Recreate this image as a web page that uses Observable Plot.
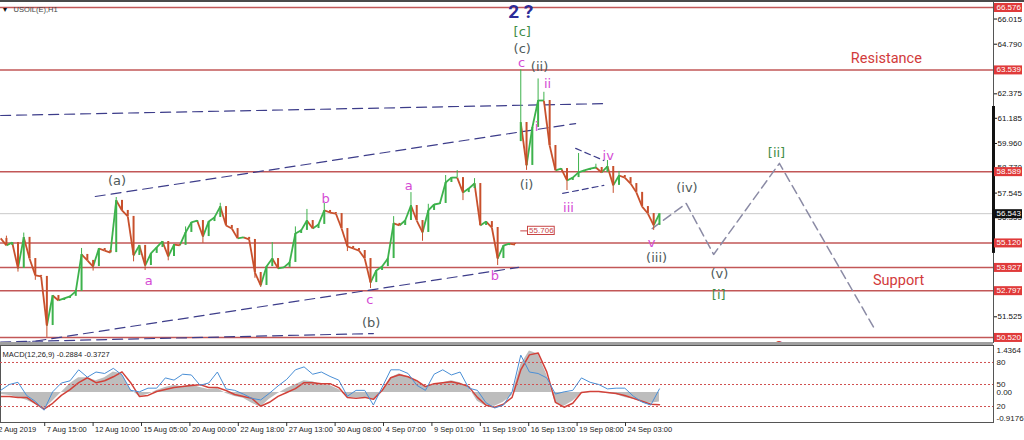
<!DOCTYPE html>
<html>
<head>
<meta charset="utf-8">
<script src="https://cdn.jsdelivr.net/npm/d3@7"></script>
<script src="https://cdn.jsdelivr.net/npm/@observablehq/plot@0.6"></script>
<style>
  html, body { margin: 0; padding: 0; background: #fff; }
  #chart { position: relative; width: 1024px; height: 440px; overflow: hidden; background: #fff; }
  #chart svg { position: absolute; left: 0; }
  #topline { position: absolute; left: 0; top: 0; width: 1024px; height: 2px; background: #4a4a4a; z-index: 5; }
  #sep { position: absolute; left: 0; top: 342px; width: 993px; height: 3px; background: #a0a0a0; z-index: 5; }
</style>
</head>
<body>
<div id="chart"><div id="topline"></div><div id="sep"></div></div>
<script>
// ---------- price data: USOIL H1, close every 8 hourly bars ----------
const closeStart = -61;   // bar index of the first close
const closeStep = 8;      // hourly bars between closes
const closes = [
  55.34, 55.00, 55.14, 53.88, 55.39, 54.36, 53.54, 53.49, 51.10, 52.56,
  52.32, 52.42, 52.52, 52.76, 54.56, 54.27, 53.97, 54.85, 54.75, 54.65,
  57.19, 56.70, 56.41, 54.51, 55.00, 54.02, 54.61, 54.90, 55.19, 54.46,
  55.04, 55.00, 55.63, 56.12, 56.21, 55.43, 56.16, 56.36, 56.89, 55.97,
  55.82, 55.34, 55.39, 55.29, 53.68, 53.05, 53.97, 54.36, 53.88, 53.93,
  54.17, 55.58, 55.73, 56.21, 55.82, 56.02, 56.70, 56.60, 56.55, 55.82,
  54.95, 54.85, 54.75, 54.36, 53.19, 53.78, 53.97, 54.36, 56.07, 55.97,
  56.21, 56.94, 56.21, 55.63, 56.70, 56.99, 57.04, 58.06, 58.30, 58.30,
  57.57, 57.77, 58.01, 55.97, 56.16, 55.87, 54.36, 54.99, 55.09, 55.04,
  60.98, 58.89, 60.74, 62.05, 62.05, 59.86, 58.65, 58.74, 58.16, 58.30,
  58.55, 58.65, 58.74, 58.79, 58.55, 58.84, 57.92, 58.40, 58.30, 58.01,
  57.58, 56.89, 56.55, 55.97, 56.543
];
// weekend gap: the Monday bar opens far above the Friday close
const gapIndex = 90;
const gapOpen = 60.05;
// extreme wicks
const highIdx  = [1, 4, 14, 20, 32, 38, 47, 51, 53, 56, 68, 71, 74, 77, 79, 82, 90, 93, 94, 100, 103, 105, 107];
const highVals = [55.45, 55.60, 54.85, 57.33, 55.90, 57.05, 55.14, 55.90, 56.75, 57.05, 56.40, 57.57, 57.00, 58.40, 58.64, 58.25, 63.54, 63.10, 62.45, 59.47, 58.95, 59.13, 58.60];
const lowIdx   = [3, 6, 8, 16, 23, 25, 29, 35, 44, 45, 60, 64, 73, 80, 86, 91, 98, 106, 113];
const lowVals  = [53.70, 53.30, 50.52, 53.75, 54.20, 53.78, 54.25, 55.10, 53.40, 52.95, 54.70, 52.90, 55.20, 57.18, 54.02, 58.65, 57.67, 57.53, 55.73];

// horizontal support / resistance levels and the last bid
const levels = [66.576, 63.539, 58.589, 55.120, 53.927, 52.797, 50.520];
const lastPrice = 56.543;
const priceTicks = [66.015, 64.790, 62.375, 61.185, 59.960, 58.770, 57.545, 56.355, 51.525];
const scaleMarker = [54.61, 61.76];
const priceTag = [669, 55.706];

// dashed channel lines: [bar1, price1, bar2, price2]
const trendLines = [
  [-61, 61.32, 779, 61.90],
  [70, 57.38, 735, 60.93],
  [-34, 50.23, 656, 53.93],
  [-61, 50.30, 455, 50.71]
];
const wedgeLines = [
  [717, 57.53, 774, 57.92],
  [735, 59.72, 774, 59.13]
];
// projected path
const projBars   = [841, 888, 926, 1017, 1150];
const projPrices = [55.82, 57.04, 54.56, 58.99, 50.86];

// wave labels: [text, bar, price]
const degreeLabel = [["2 ?", 659, 66.36]];
const greenLabels = [["[c]", 661, 65.38], ["[i]", 933, 52.61], ["[ii]", 1013, 59.52]];
const greyLabels = [
  ["(c)", 661, 64.55], ["(ii)", 685, 63.71], ["(i)", 667, 57.96], ["(iii)", 847, 54.41],
  ["(iv)", 889, 57.82], ["(v)", 934, 53.63], ["(a)", 100, 58.16], ["(b)", 452, 51.25]
];
const pinkLabels = [
  ["c", 660, 63.90], ["ii", 696, 62.88], ["i", 681, 60.79], ["iii", 725, 56.84],
  ["iv", 780, 59.38], ["v", 840, 55.14], ["a", 144, 53.29], ["b", 389, 57.28],
  ["a", 504, 57.92], ["c", 450, 52.37], ["b", 623, 53.54]
];
const zoneLabels = [["Resistance", 1165, 64.09], ["Support", 1182, 53.29], ["Support", 1046, 50.02]];

// ---------- indicator panel, one value every 12 hourly bars ----------
const oscStart = -61;
const oscStep = 12;
const macdMain = [
  -0.06, -0.09, -0.15, -0.24, -0.36, -0.51, -0.27, 0.00, 0.27, 0.45,
  0.45, 0.36, 0.45, 0.63, 0.57, 0.09, -0.12, -0.06, 0.06, 0.15,
  0.21, 0.18, 0.24, 0.15, 0.09, 0.12, -0.03, -0.12, -0.18, -0.33,
  -0.45, -0.21, -0.03, 0.12, 0.24, 0.36, 0.33, 0.24, 0.21, 0.09,
  -0.15, -0.18, -0.18, -0.21, 0.03, 0.45, 0.57, 0.48, 0.33, 0.18,
  0.24, 0.30, 0.36, 0.30, 0.15, -0.27, -0.42, -0.42, -0.30, -0.09,
  0.85, 1.27, 1.18, 0.54, -0.33, -0.42, -0.27, -0.03, 0.00, 0.00,
  -0.03, -0.06, -0.15, -0.21, -0.30, -0.33, -0.2884
];
const macdSignal = [
  -0.12, -0.12, -0.15, -0.15, -0.33, -0.51, -0.33, -0.09, 0.09, 0.30,
  0.45, 0.30, 0.36, 0.48, 0.63, 0.30, -0.12, -0.09, 0.03, 0.09,
  0.15, 0.18, 0.21, 0.24, 0.15, 0.15, 0.06, -0.06, -0.12, -0.18,
  -0.42, -0.30, -0.12, 0.00, 0.12, 0.30, 0.30, 0.27, 0.27, 0.15,
  -0.15, -0.18, -0.15, -0.21, 0.06, 0.45, 0.54, 0.48, 0.36, 0.18,
  0.27, 0.30, 0.33, 0.27, 0.18, -0.15, -0.39, -0.45, -0.36, -0.15,
  0.69, 1.15, 1.21, 0.63, -0.30, -0.45, -0.33, 0.00, 0.03, 0.03,
  0.00, -0.03, -0.09, -0.18, -0.27, -0.36, -0.3727
];
const oscillator = [
  42, 50, 53, 35, 27, 15, 40, 52, 55, 70,
  60, 67, 65, 72, 63, 42, 40, 45, 45, 59,
  56, 64, 63, 49, 52, 67, 44, 42, 37, 31,
  29, 38, 48, 57, 70, 74, 64, 67, 61, 56,
  34, 42, 42, 22, 46, 70, 70, 65, 49, 42,
  64, 70, 63, 67, 45, 42, 25, 18, 22, 40,
  90, 67, 65, 59, 37, 40, 42, 59, 53, 50,
  44, 45, 45, 34, 26, 22, 44
];
const oscLevels = [80, 50, 20];
const macdBounds = [-0.9176, 1.4364];

// ---------- time axis ----------
const timeLabels = [
  "2 Aug 2019", "7 Aug 15:00", "12 Aug 10:00", "15 Aug 05:00", "20 Aug 00:00",
  "22 Aug 18:00", "27 Aug 13:00", "30 Aug 08:00", "4 Sep 07:00", "9 Sep 01:00",
  "11 Sep 19:00", "16 Sep 13:00", "19 Sep 08:00", "24 Sep 03:00"
];
const labelStep = 67; // hourly bars between time labels

// ---------- layout ----------
const W = 1024, MR = 31;
const xDomain = [-61.2, 1313.4];
const UP = "#3db24c", DOWN = "#c8502c";
const LEVEL = "#c25757", LABELRED = "#e03a3a";
const NAVY = "#3d3d8a", PROJ = "#8b8ba5";
const GREY = "#4f5a5a", PINK = "#d44bd4", GREEN = "#3f8d47";
const waveFont = "DejaVu Sans, sans-serif";
const uiFont = "Liberation Sans, Arial, sans-serif";

const candles = closes.map((c, i) => ({
  bar: closeStart + i * closeStep,
  open: i === gapIndex ? gapOpen : (i > 0 ? closes[i - 1] : c),
  close: c
}));
// close-to-close segments give the dense hourly candles their continuous look
const steps = candles.slice(1).map((d, i) => ({
  x1: candles[i].bar, y1: candles[i].close, x2: d.bar, y2: d.close, up: d.close >= candles[i].close, gap: i + 1 === gapIndex
})).filter(d => !d.gap);
const wicks = [
  ...highIdx.map((i, k) => ({bar: candles[i].bar, from: Math.max(candles[i].open, candles[i].close), to: highVals[k], up: candles[i].close >= candles[i].open})),
  ...lowIdx.map((i, k) => ({bar: candles[i].bar, from: Math.min(candles[i].open, candles[i].close), to: lowVals[k], up: candles[i].close >= candles[i].open}))
];
const lineRows = (lines) => lines.flatMap((l, id) => [{id, bar: l[0], price: l[1]}, {id, bar: l[2], price: l[3]}]);
const projRows = projBars.map((b, i) => ({bar: b, price: projPrices[i]}));
const labelText = (rows, fill, size, extra = {}) => Plot.text(rows, {
  x: d => d[1], y: d => d[2], text: d => d[0], fill, fontSize: size, fontFamily: waveFont, ...extra
});
const f3 = d3.format(".3f");

const main = Plot.plot({
  width: W, height: 343,
  marginLeft: 0, marginRight: MR, marginTop: 0, marginBottom: 0,
  x: {domain: xDomain, axis: null},
  y: {domain: [50.226, 66.917], axis: "right", ticks: priceTicks, tickFormat: f3, tickSize: 3, tickPadding: 1, label: null},
  style: {fontFamily: uiFont, fontSize: "8px", color: "#111", background: "transparent", overflow: "hidden"},
  marks: [
    Plot.ruleY([lastPrice], {stroke: "#c9c9c9", strokeWidth: 1}),
    Plot.ruleY(levels, {stroke: LEVEL, strokeWidth: 1.5}),
    Plot.line(lineRows(trendLines), {x: "bar", y: "price", z: "id", stroke: NAVY, strokeWidth: 1.2, strokeDasharray: "10,6"}),
    Plot.line(lineRows(wedgeLines), {x: "bar", y: "price", z: "id", stroke: NAVY, strokeWidth: 1.2, strokeDasharray: "6,4"}),
    Plot.line(projRows, {x: "bar", y: "price", stroke: PROJ, strokeWidth: 1.5, strokeDasharray: "9,5"}),
    Plot.ruleX(wicks.filter(d => d.up), {x: "bar", y1: "from", y2: "to", stroke: UP, strokeWidth: 1}),
    Plot.ruleX(wicks.filter(d => !d.up), {x: "bar", y1: "from", y2: "to", stroke: DOWN, strokeWidth: 1}),
    Plot.link(steps.filter(d => d.up), {x1: "x1", y1: "y1", x2: "x2", y2: "y2", stroke: UP, strokeWidth: 1.8}),
    Plot.link(steps.filter(d => !d.up), {x1: "x1", y1: "y1", x2: "x2", y2: "y2", stroke: DOWN, strokeWidth: 1.8}),
    Plot.ruleX(candles.filter(d => d.close >= d.open), {x: "bar", y1: "open", y2: "close", stroke: UP, strokeWidth: 2}),
    Plot.ruleX(candles.filter(d => d.close < d.open), {x: "bar", y1: "open", y2: "close", stroke: DOWN, strokeWidth: 2}),
    // price tag with its leader
    Plot.ruleY([priceTag[1]], {x1: priceTag[0] - 10, x2: priceTag[0], stroke: "#c84545", strokeWidth: 1}),
    Plot.rect([priceTag], {x1: d => d[0], x2: d => d[0] + 37, y1: d => d[1] - 0.2, y2: d => d[1] + 0.2, fill: "#fff", stroke: "#c84545", strokeWidth: 1}),
    Plot.text([priceTag], {x: d => d[0] + 18.5, y: d => d[1], text: d => f3(d[1]), fill: "#c84545", fontSize: 8, fontFamily: uiFont}),
    // wave counts
    labelText(degreeLabel, "#2b2b98", 19, {fontWeight: "bold", fontFamily: "Roboto, sans-serif"}),
    labelText(greenLabels, GREEN, 13),
    labelText(greyLabels, GREY, 13),
    labelText(pinkLabels, PINK, 13),
    labelText(zoneLabels, "#d23b3b", 14.5, {fontFamily: "Roboto, sans-serif"}),
    // symbol caption
    Plot.text(["USOIL(E),H1"], {frameAnchor: "top-left", dx: 13, dy: 6, textAnchor: "start", fill: "#444", fontSize: 7.5, fontFamily: uiFont}),
    Plot.text(["\u25BE"], {frameAnchor: "top-left", dx: 2, dy: 6, textAnchor: "start", fill: "#111", fontSize: 8}),
    // right price scale
    Plot.ruleX([xDomain[1]], {stroke: "#555", strokeWidth: 1}),
    Plot.ruleX([xDomain[1]], {y1: scaleMarker[0], y2: scaleMarker[1], stroke: "#111", strokeWidth: 3}),
    Plot.ruleY(levels, {stroke: LABELRED, strokeWidth: 9, insetLeft: 994, insetRight: -29}),
    Plot.text(levels, {y: d => d, text: f3, frameAnchor: "right", dx: 3, textAnchor: "start", fill: "#fff", fontSize: 8, fontFamily: uiFont}),
    Plot.ruleY([lastPrice], {stroke: "#111", strokeWidth: 9, insetLeft: 994, insetRight: -29}),
    Plot.text([lastPrice], {y: d => d, text: f3, frameAnchor: "right", dx: 3, textAnchor: "start", fill: "#fff", fontSize: 8, fontFamily: uiFont})
  ]
});
main.style.top = "0px";

const oscRows = oscillator.map((v, i) => ({bar: oscStart + i * oscStep, osc: v, main: macdMain[i], signal: macdSignal[i]}));
const tickBars = timeLabels.map((_, k) => (k - 1) * labelStep);

const macdPanel = Plot.plot({
  width: W, height: 95,
  marginLeft: 0, marginRight: MR, marginTop: 0, marginBottom: 18,
  x: {domain: xDomain, axis: null},
  y: {domain: macdBounds, axis: null},
  style: {fontFamily: uiFont, background: "transparent"},
  marks: [
    Plot.areaY(oscRows, {x: "bar", y: "main", fill: "#bdbdbd"}),
    Plot.line(oscRows, {x: "bar", y: "signal", stroke: "#d2423a", strokeWidth: 1.5}),
    Plot.frame({stroke: "#555"}),
    Plot.text(["MACD(12,26,9) " + macdMain[macdMain.length - 1].toFixed(4) + " " + macdSignal[macdSignal.length - 1].toFixed(4)],
      {frameAnchor: "top-left", dx: 2, dy: 6, textAnchor: "start", fill: "#222", fontSize: 7.5}),
    Plot.text([macdBounds[1]], {y: d => d, text: d => d.toFixed(4), frameAnchor: "right", dx: 3, dy: 5, textAnchor: "start", fill: "#222", fontSize: 8}),
    Plot.text([0], {y: d => d, text: d => d.toFixed(2), frameAnchor: "right", dx: 3, textAnchor: "start", fill: "#222", fontSize: 8}),
    Plot.text([macdBounds[0]], {y: d => d, text: d => d.toFixed(4), frameAnchor: "right", dx: 3, dy: -4, textAnchor: "start", fill: "#222", fontSize: 8}),
    Plot.ruleX(tickBars, {x: d => d, stroke: "#333", insetTop: 77, insetBottom: -4}),
    Plot.text(tickBars, {x: d => d, text: d => timeLabels[Math.round(d / labelStep) + 1], frameAnchor: "bottom", dy: 9, dx: 2, textAnchor: "start", fill: "#222", fontSize: 7.5})
  ]
});
macdPanel.style.top = "345px";

const oscPanel = Plot.plot({
  width: W, height: 95,
  marginLeft: 0, marginRight: MR, marginTop: 2.3, marginBottom: 19.3,
  x: {domain: xDomain, axis: null},
  y: {domain: [0, 100], axis: null},
  style: {fontFamily: uiFont, background: "transparent"},
  marks: [
    Plot.ruleY(oscLevels, {stroke: "#d05050", strokeWidth: 1, strokeDasharray: "2,2"}),
    Plot.line(oscRows, {x: "bar", y: "osc", stroke: "#4a8fd6", strokeWidth: 1}),
    Plot.text(oscLevels, {y: d => d, text: d => String(d), frameAnchor: "right", dx: 3, textAnchor: "start", fill: "#222", fontSize: 8})
  ]
});
oscPanel.style.top = "345px";

const chart = document.getElementById("chart");
chart.append(main, macdPanel, oscPanel);
</script>
</body>
</html>
